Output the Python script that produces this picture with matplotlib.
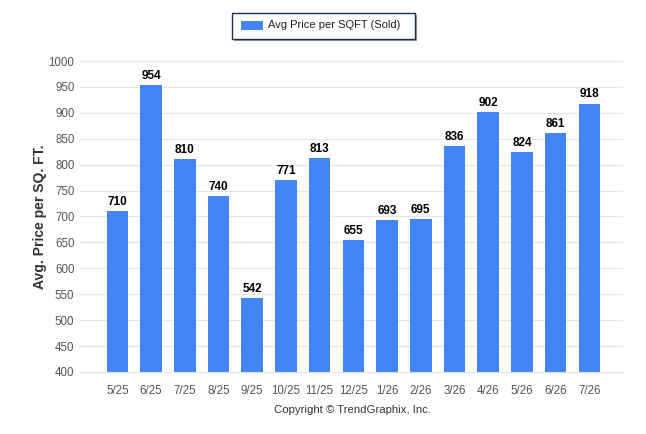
import matplotlib
matplotlib.use("Agg")
import matplotlib.pyplot as plt
from matplotlib.patches import Rectangle

months = ["5/25", "6/25", "7/25", "8/25", "9/25", "10/25", "11/25", "12/25",
          "1/26", "2/26", "3/26", "4/26", "5/26", "6/26", "7/26"]
price_sqft = [710, 954, 810, 740, 542, 771, 813, 655, 693, 695, 836, 902,
              824, 861, 918]
y_ticks = list(range(400, 1001, 50))

BAR = "#4285f4"
plt.rcParams["font.family"] = ["Liberation Sans", "DejaVu Sans"]

fig = plt.figure(figsize=(6.46, 4.34), dpi=100)
ax = fig.add_axes([80 / 646, 1 - 372 / 434, 543 / 646, 311 / 434])

x = range(len(months))
ax.bar(x, price_sqft, width=0.64, color=BAR, zorder=2)
for i, v in zip(x, price_sqft):
    ax.text(i, v + 6, f"{v}", ha="center", va="bottom", fontsize=8.5,
            fontweight="bold", color="black", zorder=3)

ax.set_xlim(-1.11, 15.0)
ax.set_ylim(400, 1000)
ax.set_yticks(y_ticks)
ax.set_xticks(list(x))
ax.set_xticklabels(months)
ax.tick_params(axis="both", length=0, labelsize=8.3, colors="#555555")
ax.tick_params(axis="x", pad=9)
ax.tick_params(axis="y", pad=4)
ax.grid(axis="y", color="#e6e6e6", linewidth=0.8, zorder=0)
for side in ("top", "right", "left"):
    ax.spines[side].set_visible(False)
ax.spines["bottom"].set_color("#e0e0e0")
ax.set_ylabel("Avg. Price per SQ. FT.", fontsize=10, fontweight="bold",
              color="#333333", labelpad=1)

fig.text(353 / 646, 1 - 410 / 434, "Copyright \u00a9 TrendGraphix, Inc.",
         ha="center", va="center", fontsize=8.2, color="#333333")

# legend box with shadow
shadow = Rectangle((234 / 646, 1 - 41 / 434), 183 / 646, 26 / 434,
                   transform=fig.transFigure, facecolor="#9a9a9a",
                   edgecolor="none")
box = Rectangle((232 / 646, 1 - 39 / 434), 183 / 646, 26 / 434,
                transform=fig.transFigure, facecolor="white",
                edgecolor="#1f2f4f", linewidth=1.0)
swatch = Rectangle((241 / 646, 1 - 30 / 434), 22 / 646, 9 / 434,
                   transform=fig.transFigure, facecolor=BAR, edgecolor="none")
for p in (shadow, box, swatch):
    fig.patches.append(p)
fig.text(268 / 646, 1 - 25.5 / 434, "Avg Price per SQFT (Sold)", ha="left",
         va="center", fontsize=8, color="#222222")

fig.savefig("out.png", dpi=100, facecolor="white")
